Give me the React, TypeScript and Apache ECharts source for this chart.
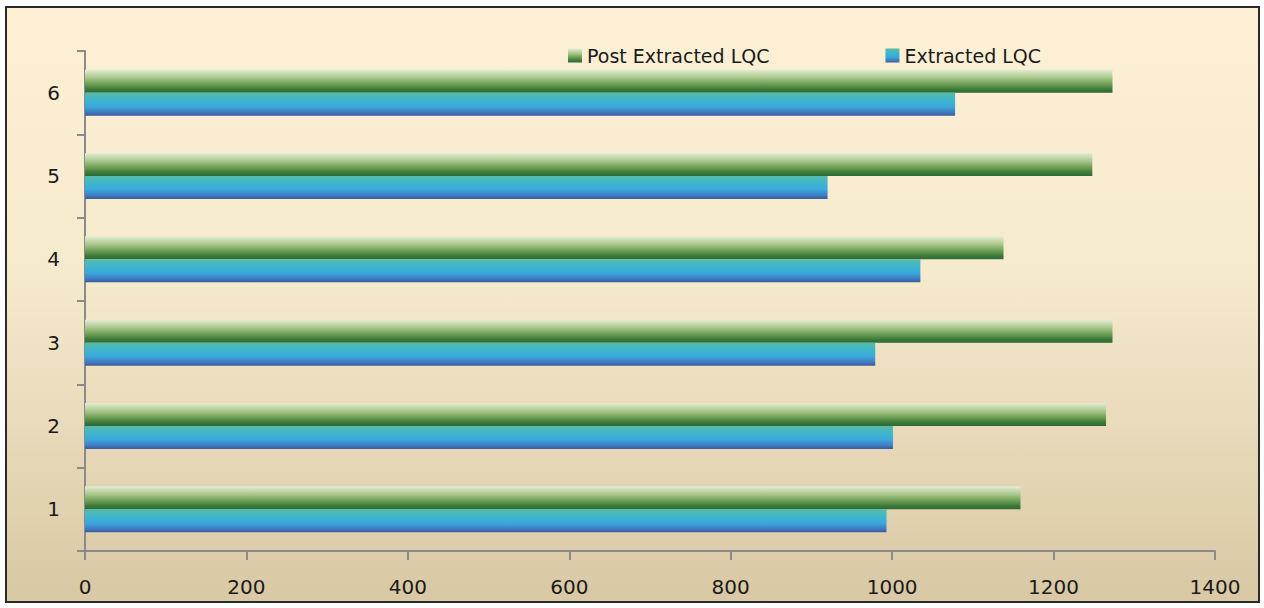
import React, { useEffect, useRef } from "react";
import * as echarts from "echarts";

const categories = ["1", "2", "3", "4", "5", "6"];
const extractedLQC = [993, 1001, 979, 1035, 920, 1078];
const postExtractedLQC = [1159, 1265, 1273, 1138, 1248, 1273];
const xTicks = { min: 0, max: 1400, interval: 200 };

const FONT = "DejaVu Sans, Verdana, sans-serif";

export default function App() {
  const ref = useRef<HTMLDivElement>(null);

  useEffect(() => {
    if (!ref.current) return;
    const chart = echarts.init(ref.current, null, { renderer: "svg" });
    const greenGrad = new echarts.graphic.LinearGradient(0, 0, 0, 1, [
      { offset: 0, color: "#e4edd3" },
      { offset: 0.35, color: "#a9c78b" },
      { offset: 0.7, color: "#5f9349" },
      { offset: 0.85, color: "#3b7a3b" },
      { offset: 1, color: "#2c6834" },
    ]);
    const blueGrad = new echarts.graphic.LinearGradient(0, 0, 0, 1, [
      { offset: 0, color: "#55bca9" },
      { offset: 0.35, color: "#3db5d0" },
      { offset: 0.6, color: "#3aa8dc" },
      { offset: 0.85, color: "#3f7bc0" },
      { offset: 1, color: "#3a5a9c" },
    ]);
    chart.setOption({
      animation: false,
      textStyle: { fontFamily: FONT },
      grid: { left: 85, right: 49, top: 51, bottom: 57, containLabel: false },
      legend: {
        left: 568,
        top: 46,
        padding: 0,
        itemWidth: 14,
        itemHeight: 14,
        itemGap: 116,
        icon: "rect",
        data: ["Post Extracted LQC", "Extracted LQC"],
        textStyle: { fontFamily: FONT, fontSize: 19, color: "#1a1a1a" },
      },
      xAxis: {
        type: "value",
        min: xTicks.min,
        max: xTicks.max,
        interval: xTicks.interval,
        axisLine: { show: true, lineStyle: { color: "#8a8a8a", width: 2 } },
        axisTick: { show: true, length: 9, lineStyle: { color: "#8a8a8a", width: 2 } },
        axisLabel: {
          fontFamily: FONT,
          fontSize: 20,
          color: "#1a1a1a",
          margin: 26,
          formatter: (v: number) => String(v),
        },
        splitLine: { show: false },
      },
      yAxis: {
        type: "category",
        data: categories,
        axisLine: { show: true, lineStyle: { color: "#8a8a8a", width: 2 } },
        axisTick: { show: true, length: 8, lineStyle: { color: "#8a8a8a", width: 2 } },
        axisLabel: { fontFamily: FONT, fontSize: 20, color: "#1a1a1a", margin: 25 },
        splitLine: { show: false },
      },
      series: [
        {
          name: "Post Extracted LQC",
          type: "bar",
          data: postExtractedLQC,
          barWidth: 23,
          barGap: "0%",
          itemStyle: { color: greenGrad },
        },
        {
          name: "Extracted LQC",
          type: "bar",
          data: extractedLQC,
          barWidth: 23,
          barGap: "0%",
          itemStyle: { color: blueGrad },
        },
      ],
    });
    return () => chart.dispose();
  }, []);

  return (
    <div style={{ position: "absolute", left: 0, top: 0, width: 1264, height: 608, background: "#fff" }}>
      <div
        style={{
          position: "absolute",
          left: 5,
          top: 6,
          width: 1255,
          height: 597,
          boxSizing: "border-box",
          border: "2px solid #2a2a2a",
          background: "linear-gradient(to bottom, #fdf0d5 0%, #f6eacd 45%, #d8c8a4 100%)",
        }}
      />
      <div ref={ref} style={{ position: "absolute", left: 0, top: 0, width: 1264, height: 608 }} />
    </div>
  );
}
